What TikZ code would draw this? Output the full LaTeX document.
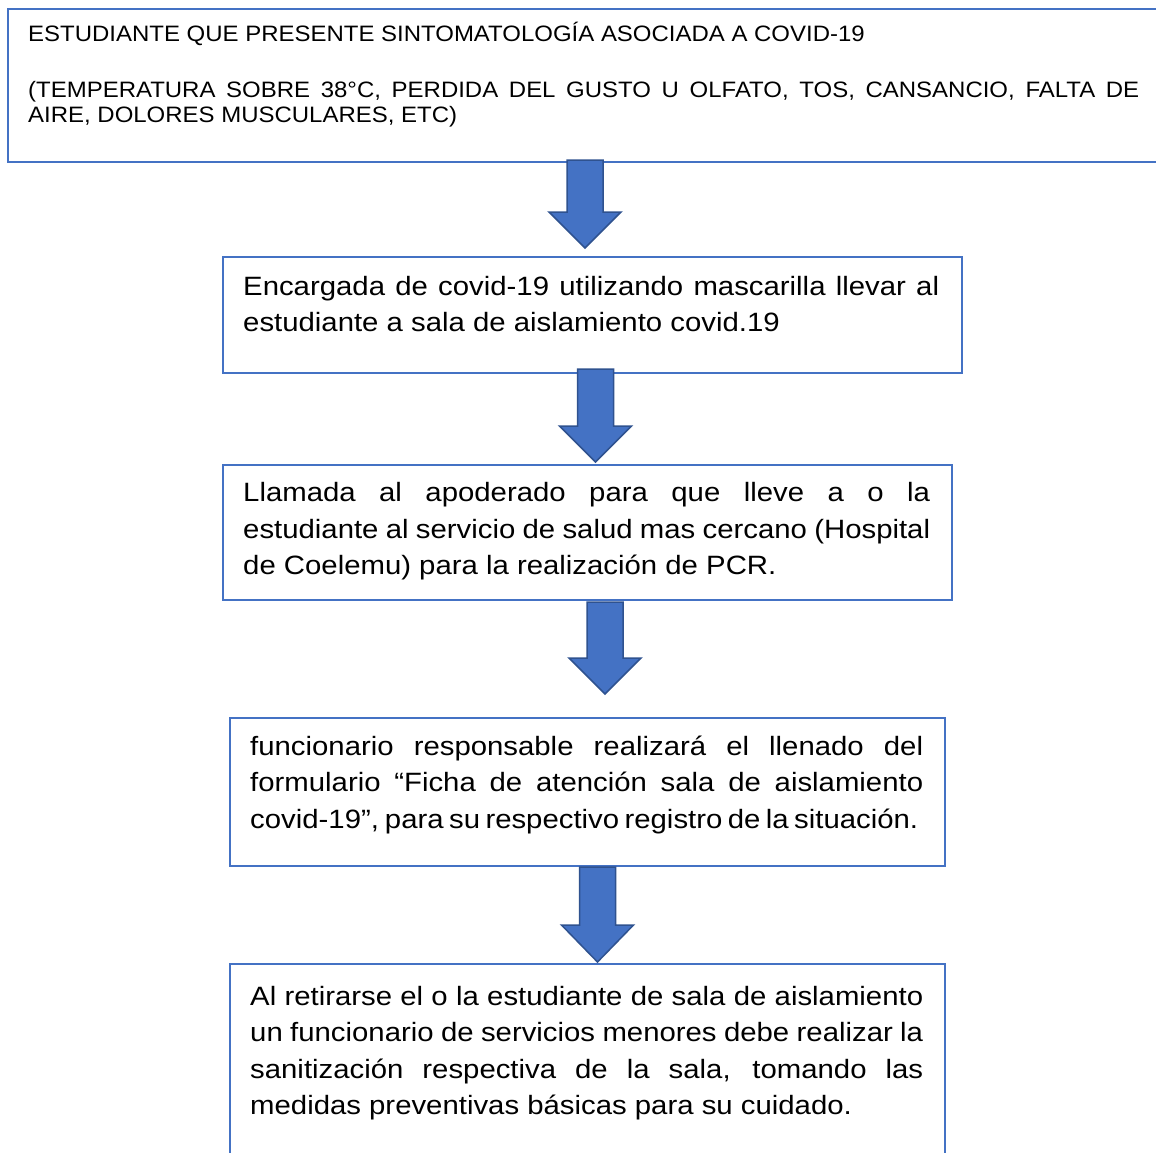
\documentclass[tikz,border=0pt]{standalone}
\usepackage{fontspec}
\setmainfont{Liberation Sans}
\newfontfamily\bigfont[FakeStretch=1.107]{Liberation Sans}
\newfontfamily\smallfont[FakeStretch=1.075]{Liberation Sans}
\definecolor{boxblue}{HTML}{4472C4}
\definecolor{arrowedge}{HTML}{2F528F}
\tikzset{
  box/.style={draw=boxblue, line width=1.5pt, rectangle, inner sep=0pt, anchor=north west},
  bigtxt/.style={inner sep=0pt, anchor=base west, font=\bigfont\fontsize{26.5}{36.6}\selectfont},
  smalltxt/.style={inner sep=0pt, anchor=base west, font=\smallfont\fontsize{22.3}{25}\selectfont},
  blockarrow/.style={fill=boxblue, draw=arrowedge, line width=1.5pt, line join=miter}
}
\newcommand{\bkarrow}[4]{%
  \path[blockarrow] (#1-18,#2) -- (#1+18,#2) -- (#1+18,#3) -- (#1+36,#3) -- (#1,#4)
    -- (#1-36,#3) -- (#1-18,#3) -- cycle;}
\begin{document}
\begin{tikzpicture}[x=1pt, y=-1pt]
\useasboundingbox (0,0) rectangle (1156,1152);
\clip (0,0) rectangle (1156,1152);
\fill[white] (0,0) rectangle (1156,1152);

% boxes
\node[box, minimum width=1163pt, minimum height=153pt] (b1) at (7,8) {};
\node[box, minimum width=739pt, minimum height=116pt] (b2) at (222,256) {};
\node[box, minimum width=729pt, minimum height=135pt] (b3) at (222,464) {};
\node[box, minimum width=715pt, minimum height=148pt] (b4) at (229,717) {};
\node[box, minimum width=715pt, minimum height=230pt] (b5) at (229,963) {};

% texts
\node[smalltxt] (t1a) at (28,41) {ESTUDIANTE QUE PRESENTE SINTOMATOLOGÍA ASOCIADA A COVID-19};
\node[smalltxt] (t1b) at (28,97) {\vtop{%
  \hbox to 1111pt{(TEMPERATURA SOBRE 38°C, PERDIDA DEL GUSTO U OLFATO, TOS, CANSANCIO, FALTA DE}%
  \hbox{AIRE, DOLORES MUSCULARES, ETC)}}};

\node[bigtxt] (t2) at (243,295) {\vtop{%
  \hbox to 696pt{Encargada de covid-19 utilizando mascarilla llevar al}%
  \hbox{estudiante a sala de aislamiento covid.19}}};

\node[bigtxt] (t3) at (243,501.5) {\vtop{%
  \hbox to 687pt{Llamada al apoderado para que lleve a o la}%
  \hbox to 687pt{estudiante al servicio de salud mas cercano (Hospital}%
  \hbox{de Coelemu) para la realización de PCR.}}};

\node[bigtxt] (t4) at (250,755) {\vtop{%
  \hbox to 673pt{funcionario responsable realizará el llenado del}%
  \hbox to 673pt{formulario “Ficha de atención sala de aislamiento}%
  \hbox to 668pt{covid-19”, para su respectivo registro de la situación.}}};

\node[bigtxt] (t5) at (250,1005) {\vtop{%
  \hbox to 673pt{Al retirarse el o la estudiante de sala de aislamiento}%
  \hbox to 673pt{un funcionario de servicios menores debe realizar la}%
  \hbox to 673pt{sanitización respectiva de la sala, tomando las}%
  \hbox{medidas preventivas básicas para su cuidado.}}};

% block arrows
\bkarrow{585}{160}{212}{248}
\bkarrow{595.5}{369}{426}{462}
\bkarrow{605}{602}{658}{694}
\bkarrow{597.5}{867}{925}{962}
\end{tikzpicture}
\end{document}
